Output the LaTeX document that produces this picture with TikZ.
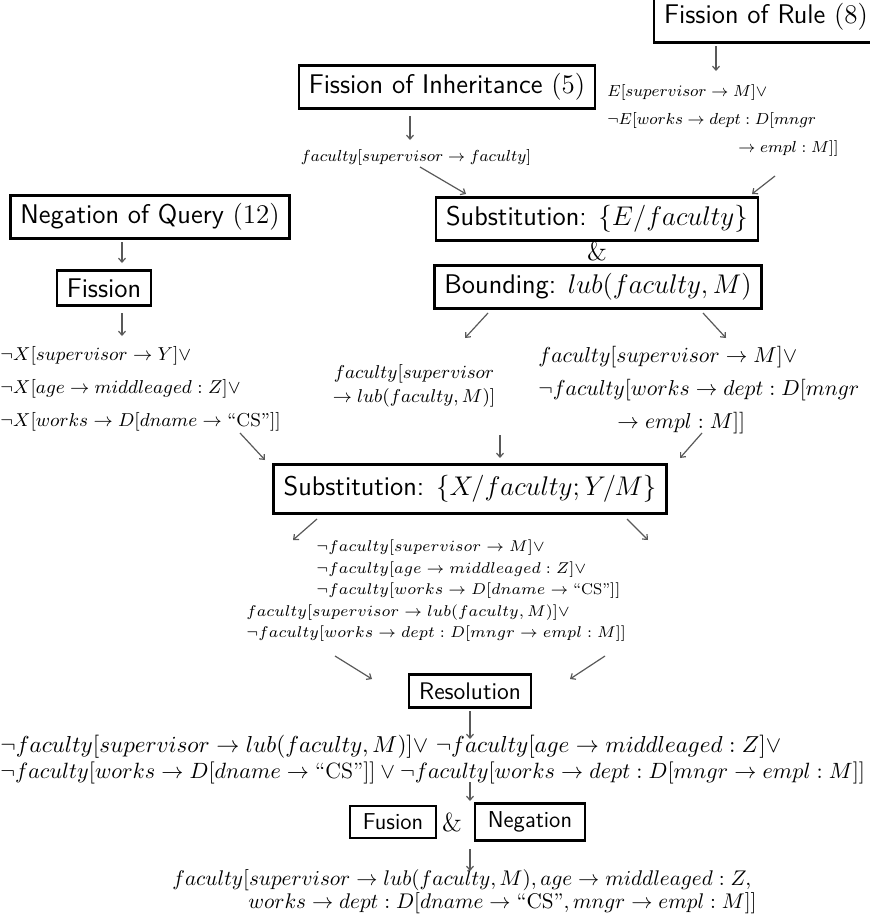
\RequirePackage{fix-cm}
\documentclass[tikz,border=0pt]{standalone}
\usepackage{amsmath}
\usepackage{amssymb}
\usepackage{xcolor}
\usetikzlibrary{positioning,arrows.meta}

\newcommand{\fsz}[2]{\fontsize{#1}{#2}\selectfont}

\begin{document}
\begin{tikzpicture}[
        x=0.5pt, y=-0.5pt,
        box/.style={draw=black, line width=1.2pt, inner xsep=5pt, inner ysep=4pt, font=\sffamily\fsz{13.5}{15.5}},
        formula/.style={inner sep=0pt, align=left},
        amp/.style={inner sep=0pt, font=\fsz{13}{15}},
        flow/.style={draw=black!65, line width=0.6pt, -{Straight Barb[length=2pt,width=3.5pt]}}]
        \useasboundingbox (0,0) rectangle (870,921);
        % NODES
        % rule and its fission
        \node[box, inner ysep=6pt] (rule) at (766,17) {Fission of Rule $(8)$};
        \node[formula, font=\fsz{8}{14}, below of = rule, node distance = 51.5pt, xshift = -79.5pt, anchor = west] (ruletext)
            {$E[supervisor \rightarrow M]\vee$\\
             $\neg E[works \rightarrow dept : D[mngr$\\
             \hspace*{65.5pt}$\rightarrow empl : M]]$};
        % inheritance
        \node[box, left of = rule, node distance = 159.5pt, yshift = -35pt] (inh) {Fission of Inheritance $(5)$};
        \node[formula, font=\fsz{8}{10}, below of = inh, node distance = 35pt, xshift = -15.5pt] (inhtext)
            {$faculty[supervisor \rightarrow faculty]$};
        % substitution and bounding
        \node[box, below of = inh, node distance = 66pt, xshift = 75pt] (substE) {Substitution: $\{E/faculty\}$};
        \node[amp, below of = substE, node distance = 16pt] (amp1) {\&};
        \node[box, below of = amp1, node distance = 18pt, xshift = 0.5pt] (bound) {Bounding: $lub(faculty, M)$};
        \node[formula, align=center, font=\fsz{9.3}{12}, below of = bound, node distance = 49.5pt, xshift = -92pt] (boundL)
            {$faculty[supervisor$\\
             $\rightarrow lub(faculty, M)]$};
        \node[formula, font=\fsz{10.8}{16.5}, below of = bound, node distance = 51.5pt, xshift = -30pt, anchor = west] (boundR)
            {$faculty[supervisor \rightarrow M]\vee$\\
             $\neg faculty[works \rightarrow dept : D[mngr$\\
             \hspace*{39.5pt}$\rightarrow empl : M]]$};
        % query
        \node[box, left of = substE, node distance = 223.5pt, yshift = 1pt] (query) {Negation of Query $(12)$};
        \node[box, below of = query, node distance = 35.5pt, xshift = -23pt] (fission) {Fission};
        \node[formula, font=\fsz{9.35}{16.5}, below of = fission, node distance = 50.5pt, xshift = -52pt, anchor = west] (querytext)
            {$\neg X[supervisor \rightarrow Y]\vee$\\
             $\neg X[age \rightarrow middleaged : Z]\vee$\\
             $\neg X[works \rightarrow D[dname \rightarrow \textrm{``CS''}]]$};
        % second substitution
        \node[box, inner ysep=5.5pt, below of = bound, node distance = 101pt, xshift = -64pt] (substX) {Substitution: $\{X/faculty; Y/M\}$};
        \node[formula, font=\fsz{7.8}{10.75}, below of = substX, node distance = 51pt, xshift = -112pt, anchor = west] (midtext)
            {\hspace*{35pt}$\neg faculty[supervisor \rightarrow M]\vee$\\
             \hspace*{35pt}$\neg faculty[age \rightarrow middleaged : Z]\vee$\\
             \hspace*{35pt}$\neg faculty[works \rightarrow D[dname \rightarrow \textrm{``CS''}]]$\\
             $faculty[supervisor \rightarrow lub(faculty, M)]\vee$\\
             $\neg faculty[works \rightarrow dept : D[mngr \rightarrow empl : M]]$};
        % resolution
        \node[box, font=\sffamily\fsz{12}{14}, below of = substX, node distance = 101pt] (resol) {Resolution};
        \node[formula, font=\fsz{11.05}{13}, below of = resol, node distance = 34.5pt, xshift = -235pt, anchor = west] (restext)
            {\fsz{11.55}{13}$\neg faculty[supervisor \rightarrow lub(faculty, M)]\vee$\ $\neg faculty[age \rightarrow middleaged : Z]\vee$\\
             \fsz{11.05}{13}$\neg faculty[works \rightarrow D[dname \rightarrow \textrm{``CS''}]] \vee \neg faculty[works \rightarrow dept : D[mngr \rightarrow empl : M]]$};
        % fusion and negation
        \node[box, inner xsep=6.5pt, font=\sffamily\fsz{11.5}{13.5}, below of = resol, node distance = 65.5pt, xshift = -38.5pt] (fusion) {Fusion};
        \node[amp, right of = fusion, node distance = 29.5pt] (amp2) {\&};
        \node[box, inner xsep=6.5pt, font=\sffamily\fsz{11.5}{13.5}, right of = fusion, node distance = 68.5pt] (negation) {Negation};
        \node[formula, font=\fsz{10.6}{11.5}, below of = fusion, node distance = 35pt, xshift = -110.5pt, anchor = west] (final)
            {$faculty[supervisor \rightarrow lub(faculty, M), age \rightarrow middleaged : Z,$\\
             \hspace*{38pt}$works \rightarrow dept : D[dname \rightarrow \textrm{``CS''}, mngr \rightarrow empl : M]]$};

        % ARROWS
        \draw[flow] ([shift={(-50,29)}]rule.center) -- ([shift={(109,-49)}]ruletext.west);
        \draw[flow] ([shift={(-37,29)}]inh.center) -- ([shift={(-6,-17)}]inhtext.center);
        \draw[flow] ([shift={(4,10)}]inhtext.center) -- ([shift={(-131,-25)}]substE.center);
        \draw[flow] ([shift={(168,56)}]ruletext.west) -- ([shift={(155,-25)}]substE.center);
        \draw[flow] ([shift={(-28,25)}]query.center) -- ([shift={(18,-25)}]fission.center);
        \draw[flow] ([shift={(18,25)}]fission.center) -- ([shift={(122,-53)}]querytext.west);
        \draw[flow] ([shift={(240,44)}]querytext.west) -- ([shift={(-205,-29)}]substX.center);
        \draw[flow] ([shift={(-110,26)}]bound.center) -- ([shift={(51,-48)}]boundL.center);
        \draw[flow] ([shift={(105,26)}]bound.center) -- ([shift={(188,-52)}]boundR.west);
        \draw[flow] ([shift={(86,49)}]boundL.center) -- ([shift={(30,-31)}]substX.center);
        \draw[flow] ([shift={(164,43)}]boundR.west) -- ([shift={(210,-31)}]substX.center);
        \draw[flow] ([shift={(-153,30)}]substX.center) -- ([shift={(47,-51)}]midtext.west);
        \draw[flow] ([shift={(157,30)}]substX.center) -- ([shift={(402,-51)}]midtext.west);
        \draw[flow] ([shift={(89,65)}]midtext.west) -- ([shift={(-98,-12)}]resol.center);
        \draw[flow] ([shift={(359,65)}]midtext.west) -- ([shift={(100,-12)}]resol.center);
        \draw[flow] ([shift={(0,20)}]resol.center) -- ([shift={(470,-21)}]restext.west);
        \draw[flow] ([shift={(470,22)}]restext.west) -- ([shift={(18,-21)}]amp2.center);
        \draw[flow] ([shift={(18,27)}]amp2.center) -- ([shift={(298,-21)}]final.west);
\end{tikzpicture}
\end{document}
